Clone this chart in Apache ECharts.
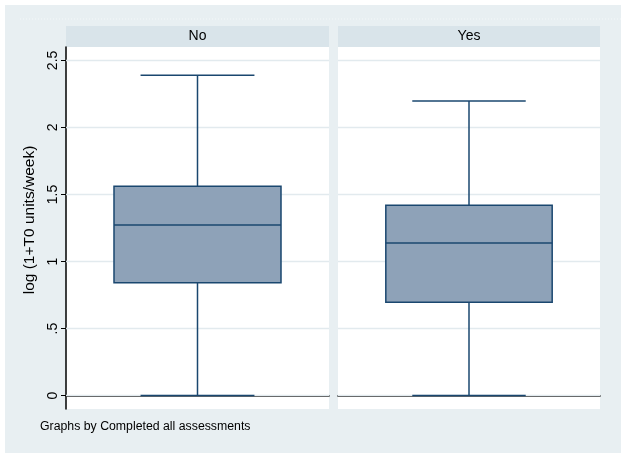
<!DOCTYPE html>
<html>
<head>
<meta charset="utf-8">
<script src="https://cdn.jsdelivr.net/npm/echarts@6/dist/echarts.min.js"></script>
<style>
html,body{margin:0;padding:0;background:#fff;}
#chart{width:626px;height:458px;}
</style>
</head>
<body>
<div id="chart"></div>
<script>
const categories = ['No', 'Yes'];
const minVals = [0, 0];
const q1Vals = [0.842, 0.696];
const medianVals = [1.272, 1.138];
const q3Vals = [1.561, 1.42];
const maxVals = [2.39, 2.198];
const yTicks = [0, 0.5, 1, 1.5, 2, 2.5];
const yTickLabels = ['0', '.5', '1', '1.5', '2', '2.5'];
const yTitle = 'log (1+T0 units/week)';
const noteText = 'Graphs by Completed all assessments';

const FONT = '"Liberation Sans", Arial, Helvetica, sans-serif';
const NAVY = '#1a476f';
const BOXFILL = '#8ea2b8';
const GRID = '#e2eaee';
const YMIN = -0.1, YMAX = 2.6;

const grids = [
  {left: 66, top: 47, width: 263, height: 362},
  {left: 338, top: 47, width: 262, height: 362}
];

const labelMap = {};
yTicks.forEach((v, i) => { labelMap[v] = yTickLabels[i]; });

const xAxes = categories.map((c, i) => ({
  type: 'category', gridIndex: i, data: [c],
  axisLine: {show: true, lineStyle: {color: '#000', width: 1.5}},
  axisTick: {show: false}, axisLabel: {show: false}, splitLine: {show: false}
}));

const yAxes = categories.map((c, i) => ({
  type: 'value', gridIndex: i, min: YMIN, max: YMAX,
  show: i === 0,
  name: i === 0 ? yTitle : '',
  nameLocation: 'middle', nameRotate: 90, nameGap: 28,
  nameTextStyle: {fontFamily: FONT, fontSize: 15.5, color: '#000', padding: [0, 0, 0, 16]},
  axisLine: {show: i === 0, lineStyle: {color: '#000', width: 1.5}},
  axisTick: {show: i === 0, length: 5, customValues: yTicks, lineStyle: {color: '#000', width: 1}},
  axisLabel: {show: i === 0, customValues: yTicks, rotate: 90, margin: 6,
    fontFamily: FONT, fontSize: 14, color: '#000',
    formatter: v => (labelMap[v] !== undefined ? labelMap[v] : '')},
  splitLine: {show: false}
}));

const series = [];
categories.forEach((c, i) => {
  series.push({
    type: 'custom', xAxisIndex: i, yAxisIndex: i, z: 1, silent: true,
    data: yTicks.map(v => [0, v]),
    renderItem: function (params, api) {
      const cs = params.coordSys;
      const y = api.coord([0, api.value(1)])[1];
      return {type: 'line', shape: {x1: cs.x, y1: y, x2: cs.x + cs.width, y2: y},
        style: {stroke: GRID, lineWidth: 1.5}};
    }
  });
  series.push({
    type: 'custom', xAxisIndex: i, yAxisIndex: i, z: 3, silent: true,
    data: [[0, minVals[i], q1Vals[i], medianVals[i], q3Vals[i], maxVals[i]]],
    renderItem: function (params, api) {
      const band = api.size([1, 0])[0];
      const cx = api.coord([api.value(0), 0])[0];
      const yMin = api.coord([0, api.value(1)])[1];
      const yQ1 = api.coord([0, api.value(2)])[1];
      const yMed = api.coord([0, api.value(3)])[1];
      const yQ3 = api.coord([0, api.value(4)])[1];
      const yMax = api.coord([0, api.value(5)])[1];
      const hw = band * 0.635 / 2;
      const cw = band * 0.433 / 2;
      const ls = {stroke: NAVY, lineWidth: 1.5};
      return {type: 'group', children: [
        {type: 'line', shape: {x1: cx, y1: yMax, x2: cx, y2: yQ3}, style: ls},
        {type: 'line', shape: {x1: cx, y1: yQ1, x2: cx, y2: yMin}, style: ls},
        {type: 'line', shape: {x1: cx - cw, y1: yMax, x2: cx + cw, y2: yMax}, style: ls},
        {type: 'line', shape: {x1: cx - cw, y1: yMin, x2: cx + cw, y2: yMin}, style: ls},
        {type: 'rect', shape: {x: cx - hw, y: yQ3, width: 2 * hw, height: yQ1 - yQ3},
          style: {fill: BOXFILL, stroke: NAVY, lineWidth: 1.5}},
        {type: 'line', shape: {x1: cx - hw, y1: yMed, x2: cx + hw, y2: yMed}, style: ls}
      ]};
    }
  });
});

const graphic = [
  {type: 'rect', z: -100, shape: {x: 5, y: 5, width: 616, height: 448}, style: {fill: '#e8eff2'}},
  {type: 'line', z: -99, shape: {x1: 20, y1: 19, x2: 621, y2: 19}, style: {stroke: '#f4f8f9', lineWidth: 1, lineDash: [1, 2]}}
];
categories.forEach((c, i) => {
  const g = grids[i];
  graphic.push({type: 'rect', z: -50, shape: {x: g.left, y: 26, width: g.width, height: 21}, style: {fill: '#d9e4ea'}});
  graphic.push({type: 'text', z: 10, x: g.left + g.width / 2, y: 36.5,
    style: {text: c, fontFamily: FONT, fontSize: 14, fill: '#000', align: 'center', verticalAlign: 'middle'}});
});
graphic.push({type: 'text', z: 10, x: 40, y: 427,
  style: {text: noteText, fontFamily: FONT, fontSize: 12.3, fill: '#000', align: 'left', verticalAlign: 'middle'}});

const option = {
  backgroundColor: '#fff',
  animation: false,
  grid: grids.map(g => Object.assign({show: true, backgroundColor: '#fff', borderWidth: 0, containLabel: false}, g)),
  xAxis: xAxes,
  yAxis: yAxes,
  series: series,
  graphic: graphic
};

const chart = echarts.init(document.getElementById('chart'), null, {renderer: 'canvas'});
chart.setOption(option);
</script>
</body>
</html>
